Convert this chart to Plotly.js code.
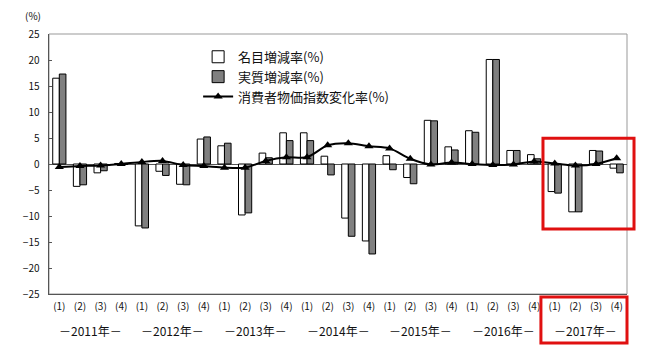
<!DOCTYPE html>
<html>
<head>
<meta charset="utf-8">
<script src="https://cdn.plot.ly/plotly-3.0.1.min.js"></script>
<style>html,body{margin:0;padding:0;background:#fff;}#chart{width:660px;height:353px;}</style>
</head>
<body>
<div id="chart"></div>
<script>
const years = ['2011', '2012', '2013', '2014', '2015', '2016', '2017'];
const quarterNames = ['(1)', '(2)', '(3)', '(4)'];
const nominal = [16.5, -4.3, -1.7, 0.1, -11.9, -1.4, -3.9, 4.8, 3.5, -9.8, 2.1, 6.0, 6.0, 1.5, -10.4, -14.8, 1.6, -2.6, 8.4, 3.3, 6.4, 20.1, 2.6, 1.8, -5.3, -9.2, 2.6, -0.8];
const real = [17.3, -4.0, -1.3, -0.1, -12.3, -2.2, -4.0, 5.2, 4.0, -9.4, 1.2, 4.5, 4.5, -2.1, -13.9, -17.3, -1.1, -3.8, 8.3, 2.7, 6.1, 20.1, 2.6, 1.0, -5.6, -9.2, 2.5, -1.7];
const cpi = [-0.6, -0.4, -0.3, 0.0, 0.4, 0.6, -0.2, -0.4, -0.7, -0.7, 0.6, 1.3, 1.3, 3.6, 4.0, 3.4, 3.0, 1.0, -0.1, 0.3, 0.0, -0.2, -0.1, 0.5, 0.1, -0.3, 0.0, 1.1];
const seriesNames = ['名目増減率(%)', '実質増減率(%)', '消費者物価指数変化率(%)'];

const tickText = [];
years.forEach(() => quarterNames.forEach(q => tickText.push(q)));
const xs = tickText.map((_, i) => i);
const boundaries = xs.map(i => i - 0.5).slice(1);
const n = xs.length;
const toPaper = v => (v + 0.5) / n;

const FONT = '"Noto Sans CJK JP", "Noto Sans", sans-serif';
const TXT = '#111';

const traces = [
  {type: 'bar', name: seriesNames[0], x: xs, y: nominal,
   marker: {color: '#ffffff', line: {color: '#000000', width: 1}}},
  {type: 'bar', name: seriesNames[1], x: xs, y: real,
   marker: {color: '#808080', line: {color: '#000000', width: 1}}},
  {type: 'scatter', mode: 'lines+markers', name: seriesNames[2], x: xs, y: cpi,
   line: {color: '#000000', width: 2, shape: 'spline', smoothing: 0.8},
   marker: {symbol: 'triangle-up', size: 8, color: '#000000'}}
];

const yearAnnotations = years.map((yr, k) => ({
  xref: 'x', yref: 'paper', x: k * 4 + 1.5, y: -0.14, yanchor: 'middle', xanchor: 'center',
  text: '－' + yr + '年－', showarrow: false, font: {family: FONT, size: 12, color: TXT}
}));

const hl = (years.length - 1) * 4;
const layout = {
  width: 660, height: 353,
  margin: {l: 49, r: 33, t: 34, b: 59},
  paper_bgcolor: '#ffffff', plot_bgcolor: '#ffffff',
  barmode: 'group', bargap: 0.36, bargroupgap: 0,
  showlegend: true,
  legend: {x: 0.258, y: 0.97, xanchor: 'left', yanchor: 'top', bgcolor: 'rgba(0,0,0,0)',
           font: {family: FONT, size: 13, color: TXT}, traceorder: 'normal'},
  font: {family: FONT, size: 10, color: TXT},
  xaxis: {range: [-0.5, n - 0.5], tickmode: 'array', tickvals: xs, ticktext: tickText,
          showgrid: false, zeroline: false, showline: true, linecolor: '#555', linewidth: 1,
          ticks: '', tickfont: {family: FONT, size: 10, color: TXT}, ticklabelstandoff: 3},
  xaxis2: {overlaying: 'x', matches: 'x', anchor: 'free', position: 0.5, side: 'bottom',
           range: [-0.5, n - 0.5], tickmode: 'array', tickvals: boundaries,
           showticklabels: false, ticks: 'inside', ticklen: 3, tickcolor: '#555',
           showgrid: false, zeroline: false, showline: false},
  yaxis: {range: [-25, 25], dtick: 5, tick0: 0, showgrid: false, zeroline: true,
          zerolinecolor: '#555', zerolinewidth: 1, showline: true, linecolor: '#555', linewidth: 1.5,
          ticks: 'inside', ticklen: 3, tickcolor: '#555', ticklabelstandoff: 6,
          tickfont: {family: FONT, size: 10, color: TXT}},
  shapes: [
    {type: 'rect', xref: 'paper', yref: 'paper', x0: 0, x1: 1, y0: 0, y1: 1,
     line: {color: '#999', width: 1}, layer: 'below'},
    {type: 'rect', xref: 'paper', yref: 'paper', x0: toPaper(hl - 0.57), x1: toPaper(hl + 3.84),
     y0: 0.599, y1: 0.25,
     line: {color: '#e01010', width: 3}},
    {type: 'rect', xref: 'paper', yref: 'paper', x0: toPaper(hl - 0.67), x1: toPaper(hl + 3.5),
     y0: -0.012, y1: -0.188,
     line: {color: '#e01010', width: 3}}
  ],
  annotations: [
    {xref: 'paper', yref: 'paper', x: -0.028, y: 1.073, xanchor: 'center', yanchor: 'middle',
     text: '(%)', showarrow: false, font: {family: FONT, size: 10, color: TXT}}
  ].concat(yearAnnotations)
};

Plotly.newPlot('chart', traces, layout, {displayModeBar: false, staticPlot: true});
</script>
</body>
</html>
